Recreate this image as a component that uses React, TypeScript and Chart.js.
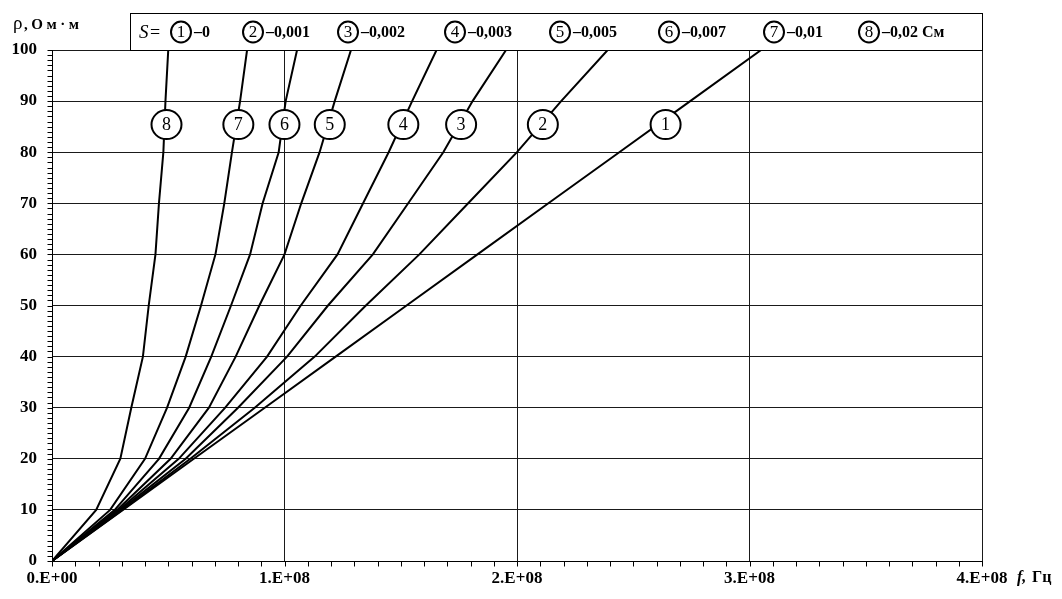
import { useEffect, useRef } from "react";
import { Chart, registerables } from "chart.js";

Chart.register(...registerables);

// Resistivity levels, Ом·м
const rhoLevels = [0, 10, 20, 30, 40, 50, 60, 70, 80, 90, 100];

// Frequency (in units of 1E+08 Гц) at which each curve reaches the levels above
const freqS1 = [0, 0.305, 0.61, 0.915, 1.22, 1.525, 1.83, 2.135, 2.44, 2.745, 3.05];
const freqS2 = [0, 0.302, 0.595, 0.872, 1.13, 1.35, 1.58, 1.79, 2.0, 2.19, 2.39];
const freqS3 = [0, 0.295, 0.575, 0.8, 1.011, 1.187, 1.38, 1.532, 1.683, 1.809, 1.953];
const freqS4 = [0, 0.288, 0.545, 0.745, 0.925, 1.07, 1.228, 1.338, 1.448, 1.549, 1.654];
const freqS5 = [0, 0.28, 0.51, 0.675, 0.79, 0.892, 1.0, 1.072, 1.151, 1.216, 1.286];
const freqS6 = [0, 0.27, 0.46, 0.59, 0.685, 0.77, 0.852, 0.906, 0.975, 1.005, 1.054];
const freqS7 = [0, 0.25, 0.4, 0.495, 0.575, 0.641, 0.703, 0.741, 0.774, 0.809, 0.839];
const freqS8 = [0, 0.19, 0.294, 0.341, 0.391, 0.416, 0.445, 0.46, 0.479, 0.488, 0.5];

// Film conductance S for curves 1..8, См
const conductanceLabels = ["0", "0,001", "0,002", "0,003", "0,005", "0,007", "0,01", "0,02"];

// Resistivity at which the numbered markers sit on the curves
const markerRho = 85.4;

const curves = [freqS1, freqS2, freqS3, freqS4, freqS5, freqS6, freqS7, freqS8];
const FREQ_UNIT = 1e8;

const SERIF = "'Liberation Serif', 'Times New Roman', serif";

function formatExp(value: number): string {
  if (value === 0) return "0.E+00";
  const exp = Math.floor(Math.log10(value));
  const mant = Math.round(value / Math.pow(10, exp));
  return `${mant}.E+${String(exp).padStart(2, "0")}`;
}

function freqAtRho(freqs: number[], rho: number): number {
  for (let i = 1; i < rhoLevels.length; i++) {
    if (rho <= rhoLevels[i]) {
      const t = (rho - rhoLevels[i - 1]) / (rhoLevels[i] - rhoLevels[i - 1]);
      return freqs[i - 1] + t * (freqs[i] - freqs[i - 1]);
    }
  }
  return freqs[freqs.length - 1];
}

function drawRoundMark(ctx: CanvasRenderingContext2D, cx: number, cy: number, rx: number, ry: number, text: string, fontPx: number) {
  ctx.save();
  ctx.beginPath();
  ctx.ellipse(cx, cy, rx, ry, 0, 0, Math.PI * 2);
  ctx.fillStyle = "#ffffff";
  ctx.fill();
  ctx.lineWidth = 2;
  ctx.strokeStyle = "#000000";
  ctx.stroke();
  ctx.fillStyle = "#000000";
  ctx.font = `${fontPx}px ${SERIF}`;
  ctx.textAlign = "center";
  ctx.textBaseline = "middle";
  ctx.fillText(text, cx, cy + 1);
  ctx.restore();
}

const decorations = {
  id: "decorations",
  afterDraw(chart: any) {
    const ctx: CanvasRenderingContext2D = chart.ctx;
    const xs = chart.scales.x;
    const ys = chart.scales.y;
    const area = chart.chartArea;

    ctx.save();
    ctx.strokeStyle = "#000000";
    ctx.lineWidth = 1;
    // minor and major tick marks, outside the plot
    const left = Math.round(area.left) + 0.5;
    const bottom = Math.round(area.bottom) + 0.5;
    ctx.beginPath();
    for (let v = 0; v <= 100; v += 1) {
      const y = Math.round(ys.getPixelForValue(v)) + 0.5;
      ctx.moveTo(left - 5, y);
      ctx.lineTo(left, y);
    }
    for (let v = 0; v <= 40; v += 1) {
      const x = Math.round(xs.getPixelForValue(v * 1e7)) + 0.5;
      ctx.moveTo(x, bottom);
      ctx.lineTo(x, bottom + 5);
    }
    ctx.stroke();
    ctx.restore();

    // numbered markers on the curves (marker 1 sits a little to the right of its line)
    curves.forEach((freqs, i) => {
      const f = freqAtRho(freqs, markerRho) * FREQ_UNIT;
      const cx = xs.getPixelForValue(f) + (i === 0 ? 8 : 2);
      const cy = ys.getPixelForValue(markerRho);
      drawRoundMark(ctx, cx, cy, 15, 14.5, String(i + 1), 18);
    });

    // axis titles
    ctx.save();
    ctx.fillStyle = "#000000";
    ctx.textBaseline = "alphabetic";
    ctx.textAlign = "left";
    ctx.font = `19px ${SERIF}`;
    ctx.fillText("ρ", 13, 29);
    ctx.font = `bold 15px ${SERIF}`;
    (ctx as any).letterSpacing = "3.5px";
    ctx.fillText(",Ом·м", 24, 29);
    (ctx as any).letterSpacing = "0px";
    ctx.font = `italic bold 16px ${SERIF}`;
    ctx.fillText("f,", 1017, 582);
    ctx.font = `bold 16px ${SERIF}`;
    ctx.fillText("Гц", 1032, 582);
    ctx.restore();

    // legend box
    ctx.save();
    const boxLeft = 130.5;
    const boxTop = 13.5;
    const boxRight = Math.round(area.right) + 0.5;
    const boxBottom = Math.round(area.top) + 0.5;
    ctx.fillStyle = "#ffffff";
    ctx.fillRect(boxLeft, boxTop, boxRight - boxLeft, boxBottom - boxTop);
    ctx.strokeStyle = "#000000";
    ctx.lineWidth = 1;
    ctx.strokeRect(boxLeft, boxTop, boxRight - boxLeft, boxBottom - boxTop);
    const cy = 32;
    ctx.fillStyle = "#000000";
    ctx.textBaseline = "middle";
    ctx.textAlign = "left";
    ctx.font = `italic 19px ${SERIF}`;
    ctx.fillText("S", 139, cy + 1);
    ctx.font = `18px ${SERIF}`;
    ctx.fillText("=", 150, cy + 1);
    const markX = [181, 253, 348, 455, 560, 669, 774, 869];
    conductanceLabels.forEach((lab, i) => {
      drawRoundMark(ctx, markX[i], cy, 10, 10.5, String(i + 1), 17);
      ctx.fillStyle = "#000000";
      ctx.textAlign = "left";
      ctx.textBaseline = "middle";
      ctx.font = `bold 16px ${SERIF}`;
      const text = "–" + lab + (i === conductanceLabels.length - 1 ? " См" : "");
      ctx.fillText(text, markX[i] + 13, cy + 1);
    });
    ctx.restore();
  },
};

export default function App() {
  const canvasRef = useRef<HTMLCanvasElement | null>(null);

  useEffect(() => {
    const canvas = canvasRef.current;
    if (!canvas) return;
    const datasets = curves.map((freqs, i) => ({
      label: `${i + 1}`,
      data: freqs.map((f, k) => ({ x: f * FREQ_UNIT, y: rhoLevels[k] })),
      borderColor: "#000000",
      borderWidth: 2,
      pointRadius: 0,
      tension: 0,
      fill: false,
    }));
    const chart = new Chart(canvas, {
      type: "line",
      data: { datasets },
      options: {
        animation: false,
        responsive: false,
        devicePixelRatio: 1,
        layout: { padding: { top: 50, right: 80, left: 0, bottom: 0 } },
        plugins: {
          legend: { display: false },
          tooltip: { enabled: false },
        },
        scales: {
          x: {
            type: "linear",
            min: 0,
            max: 4e8,
            afterFit: (scale: any) => {
              scale.height = 38;
            },
            ticks: {
              stepSize: 1e8,
              padding: 7,
              color: "#000000",
              font: { family: SERIF, size: 17, weight: "bold" },
              maxRotation: 0,
              callback: (v: any) => formatExp(Number(v)),
            },
            grid: { color: "#1a1a1a", lineWidth: 1, drawTicks: false },
            border: { color: "#000000", width: 1 },
          },
          y: {
            type: "linear",
            min: 0,
            max: 100,
            afterFit: (scale: any) => {
              scale.width = 52;
            },
            ticks: {
              stepSize: 10,
              padding: 15,
              color: "#000000",
              font: { family: SERIF, size: 17, weight: "bold" },
            },
            grid: { color: "#1a1a1a", lineWidth: 1, drawTicks: false },
            border: { color: "#000000", width: 1 },
          },
        },
      },
      plugins: [decorations],
    } as any);
    return () => chart.destroy();
  }, []);

  return (
    <div style={{ position: "absolute", left: 0, top: 0, width: 1062, height: 599, background: "#ffffff" }}>
      <canvas ref={canvasRef} width={1062} height={599} />
    </div>
  );
}
